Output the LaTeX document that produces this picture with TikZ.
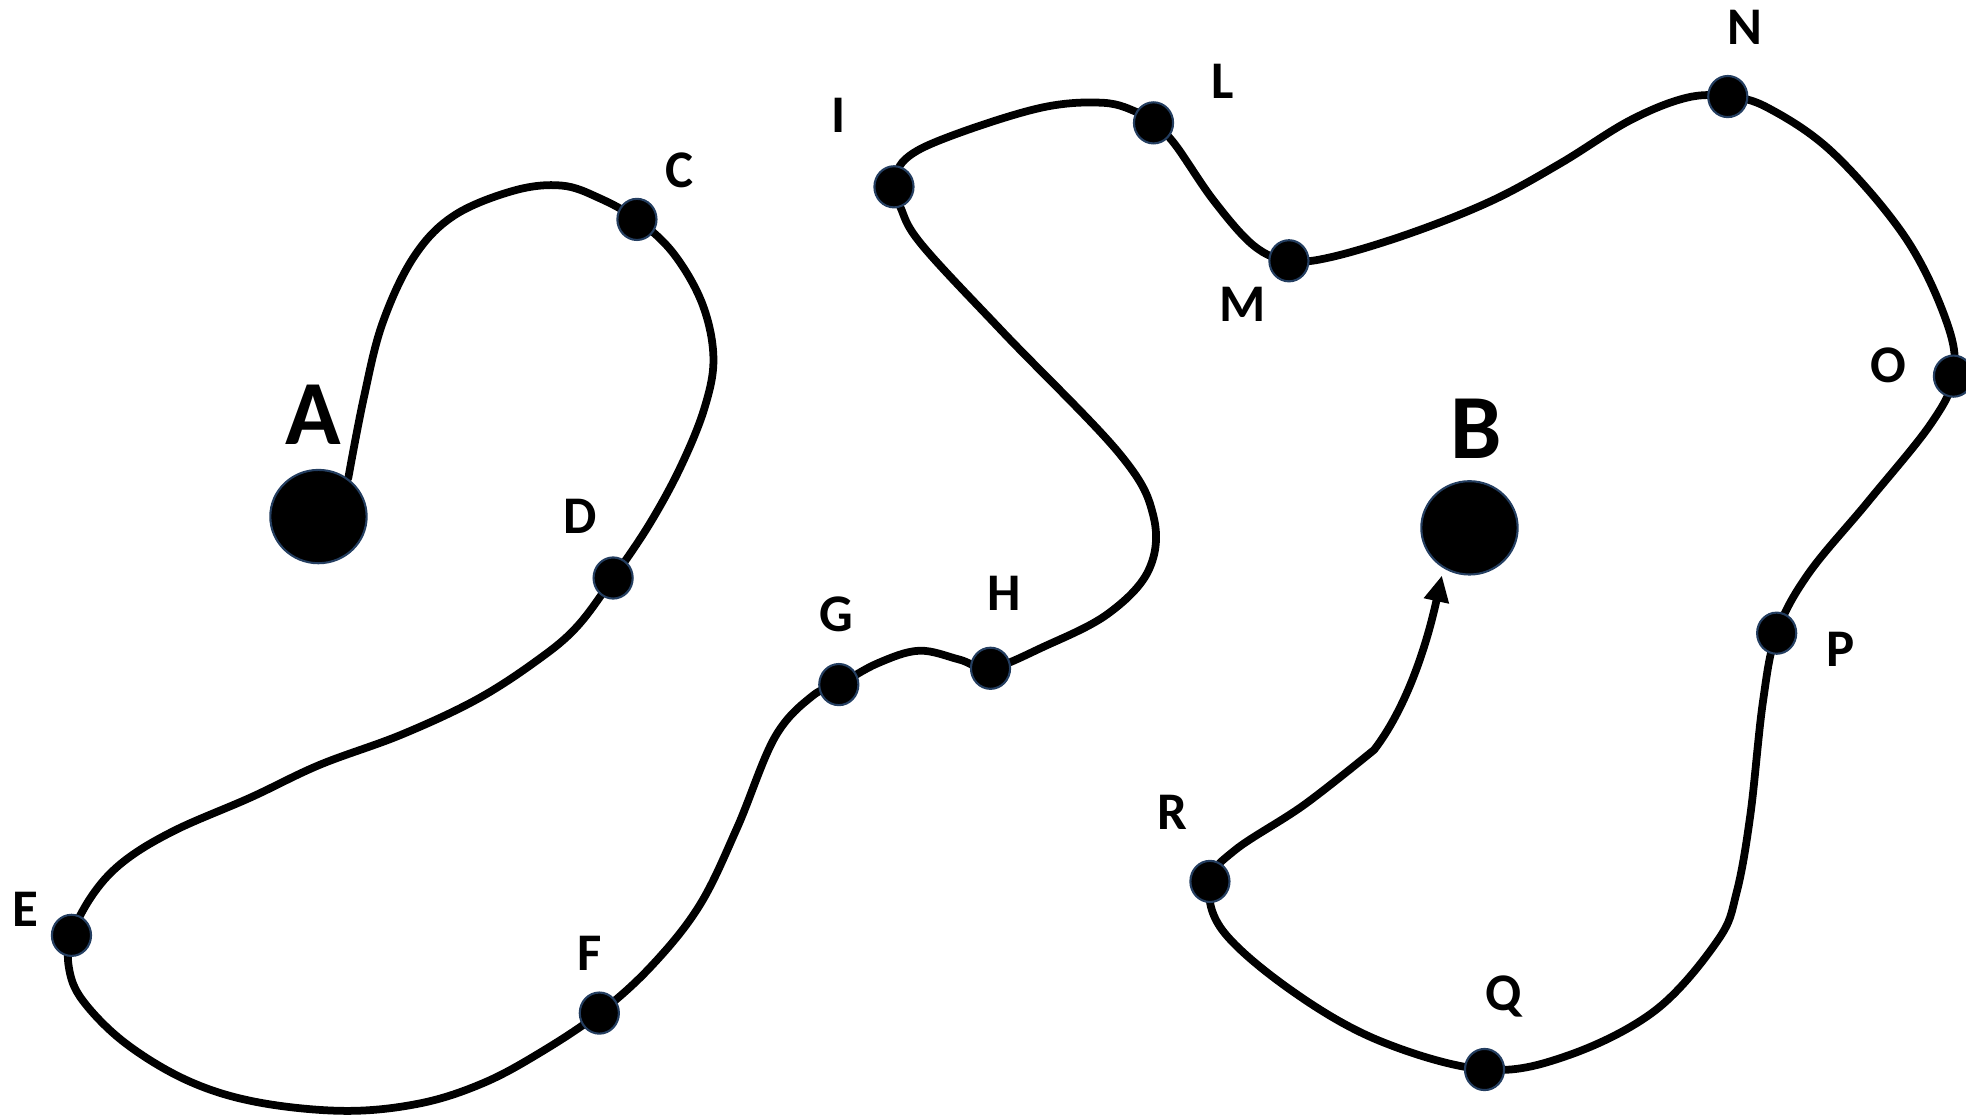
\documentclass[tikz,border=0pt]{standalone}
\usepackage{fontspec}
\setmainfont{Carlito}
\usetikzlibrary{shapes.geometric,arrows.meta,backgrounds}
\definecolor{dotrim}{RGB}{36,62,96}
\begin{document}
\begin{tikzpicture}[x=0.0125cm,y=-0.0125cm,
  dot/.style={ellipse,fill=black,draw=dotrim,line width=0.6pt,inner sep=0pt,minimum width=0.39cm,minimum height=0.41cm},
  bigdot/.style={ellipse,fill=black,draw=dotrim,line width=0.6pt,inner sep=0pt,minimum width=0.96cm,minimum height=0.93cm},
  lbl/.style={font=\fontsize{15}{18}\selectfont\bfseries,inner sep=0pt},
  biglbl/.style={font=\fontsize{26}{30}\selectfont\bfseries,inner sep=0pt},
  trail/.style={line width=2.2pt,line cap=round,line join=round}]
\useasboundingbox (0,0) rectangle (1568,889);
\node[bigdot] (A) at (254,412) {};
\node[bigdot] (B) at (1172,421) {};
\node[biglbl] (lA) at (250,331) {A};
\node[biglbl] (lB) at (1177,342) {B};
\coordinate (Bend) at (1150,459);
\foreach \n/\x/\y in {C/508/175,D/489/461,E/57/746,F/478/808,G/669/546,H/790/533,I/713/149,
  L/920/98,M/1028/208,N/1378/77,O/1558/300,P/1417/505,Q/1184/853,R/965/703} {
  \node[dot] (\n) at (\x,\y) {};
}
\foreach \n/\x/\y in {C/542/136,D/463/412,E/20/725,F/470/760,G/667/490,H/801/473,I/669/92,
  L/975/65,M/991/243,N/1392/22,O/1506/291,P/1468/518,Q/1199/795,R/935/648} {
  \node[lbl] (l\n) at (\x,\y) {\n};
}
\begin{scope}[on background layer]
\draw[trail,-{Triangle[length=0.26cm,width=0.24cm]}] plot[smooth,tension=0.6] coordinates {
  (A.52) (290,318) (305,258) (330,205) (362,172) (410,152) (448,148) (478,158) (C.center)
  (537,202) (560,242) (569,285) (562,325) (543,372) (518,418) (D.center)
  (460,500) (428,527) (380,558) (320,586) (255,610) (200,636) (140,662) (100,686) (75,712) (E.center)
  (55,772) (66,798) (100,832) (150,862) (205,879) (275,886) (335,880) (385,864) (430,840) (F.center)
  (520,770) (558,722) (588,660) (618,588) (648,555) (G.center)
  (700,529) (733,519) (765,526) (H.center)
  (832,516) (883,490) (916,455) (920,412) (893,362) (800,265) (735,195) (718,165) (I.center)
  (722,127) (757,109) (830,86) (880,82) (908,90) (L.center)
  (937,115) (968,160) (1000,196) (M.center)
  (1062,205) (1125,186) (1190,160) (1245,130) (1300,96) (1345,78) (N.center)
  (1410,86) (1462,122) (1520,190) (1553,258) (O.center)
  (1540,338) (1490,400) (1442,458) (P.center)
  (1406,560) (1396,650) (1385,712) (1370,750) (1320,806) (1250,842) (Q.center)
  (1100,830) (1030,790) (975,742) (R.center)
  (985,678) (1040,642) (1096,598)} .. controls (1125,560) and (1140,505) .. (Bend);
\end{scope}
\end{tikzpicture}
\end{document}
